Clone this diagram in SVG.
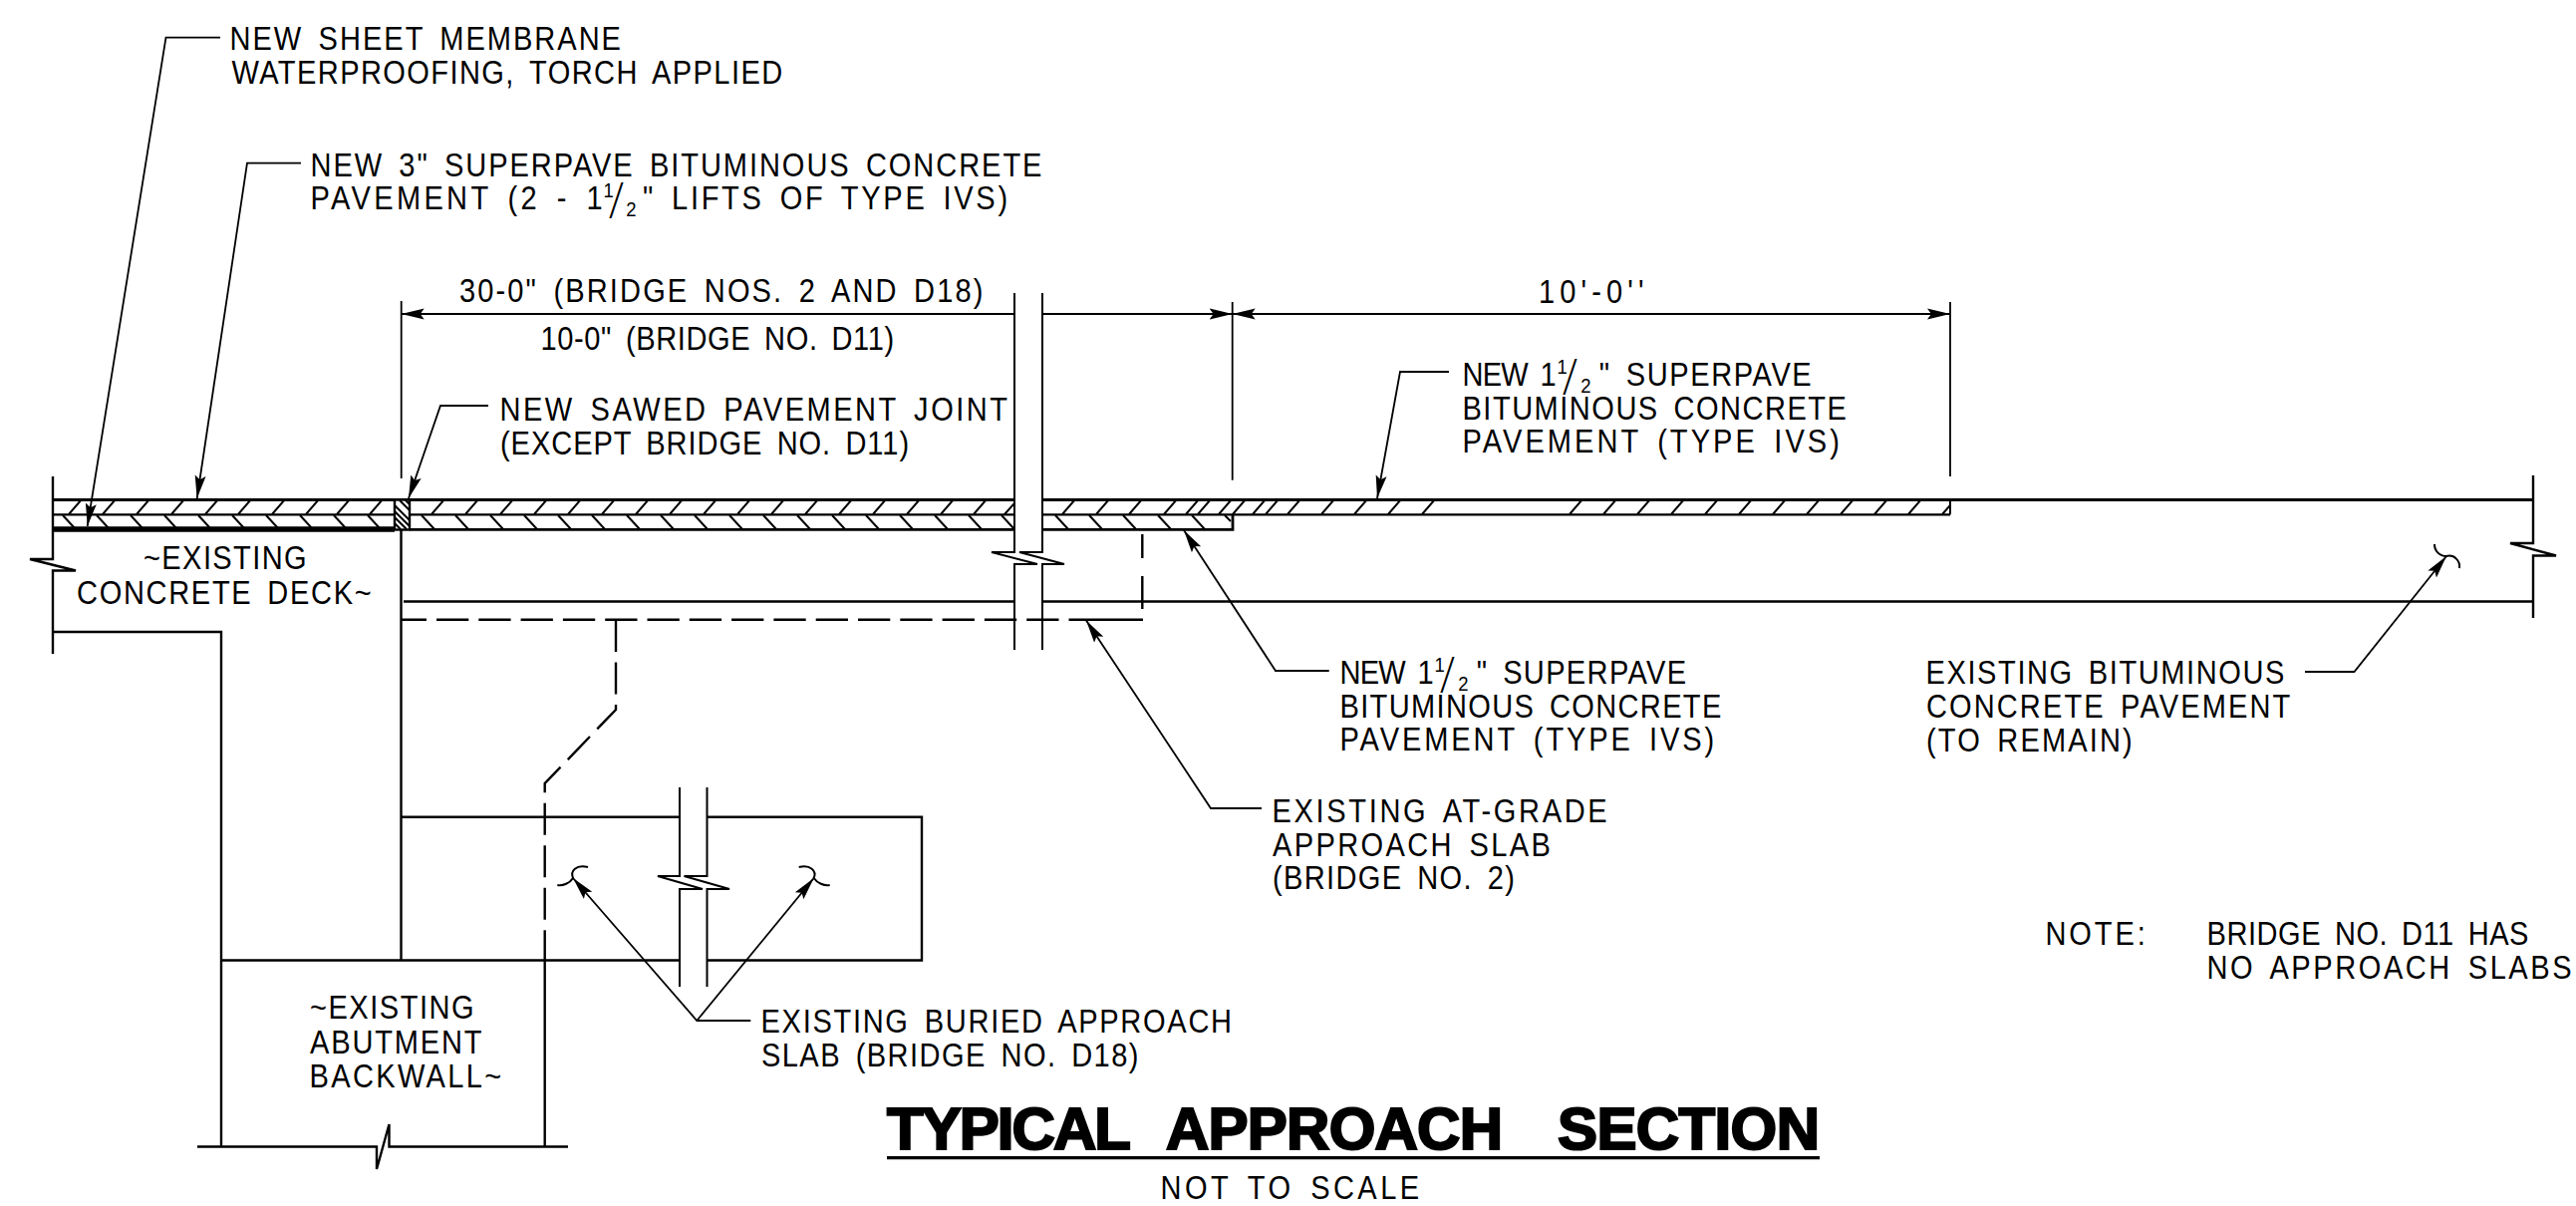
<svg xmlns="http://www.w3.org/2000/svg" width="2585" height="1210" viewBox="0 0 2585 1210">
<style>
.t{font-family:"Liberation Sans",Arial,sans-serif;font-size:33px;fill:#000;word-spacing:6px}
.s{font-size:21px}
.sl{font-family:Roboto,"Liberation Sans",sans-serif;font-weight:300;font-size:46px;word-spacing:0}
.title{font-family:"Liberation Sans",Arial,sans-serif;font-weight:700;font-size:60px;fill:#000;stroke:#000;stroke-width:2.200px}
.l{fill:none;stroke:#000;stroke-width:2.400}
.th{fill:none;stroke:#000;stroke-width:2}
.h{fill:none;stroke:#000;stroke-width:2}
.ld{fill:none;stroke:#000;stroke-width:1.800;marker-end:url(#a)}
.ln{fill:none;stroke:#000;stroke-width:1.800}
</style>
<defs>
<marker id="a" markerUnits="userSpaceOnUse" markerWidth="26" markerHeight="14" refX="23" refY="7" orient="auto"><path d="M23 7L0 1.500L4 7L0 12.500Z" fill="#000"/></marker>
</defs>
<rect width="2585" height="1210" fill="#fff"/>

<g id="pavement">
<path d="M53 501.500H1018M1046 501.500H2542" fill="none" stroke="#000" stroke-width="3.200"/>
<path d="M53 516.300H1018M1046 516.300H1957" fill="none" stroke="#000" stroke-width="2.200"/>
<path d="M411 531.300H1018M1046 531.300H1237V516" fill="none" stroke="#000" stroke-width="2.800"/>
<path d="M1957 501.500V516.300" class="th"/>
<path d="M53 531H396" fill="none" stroke="#000" stroke-width="5.500"/>
<path class="h" d="M69 516l13-15M103 516l13-15M137 516l13-15M172 516l13-15M206 516l13-15M239 516l13-15M273 516l13-15M307 516l13-15M338 516l13-15M371 516l13-15M433 516l13-15M467 516l13-15M502 516l13-15M536 516l13-15M570 516l13-15M604 516l13-15M638 516l13-15M672 516l13-15M706 516l13-15M740 516l13-15M774 516l13-15M808 516l13-15M842 516l13-15M876 516l13-15M910 516l13-15M944 516l13-15M977 516l13-15M1008 516l10-11M1066 516l13-15M1100 516l13-15M1133 516l13-15M1168 516l13-15M1190 516l13-15M1202 516l13-15M1223 516l13-15M1237 516l13-15M1257 516l13-15M1270 516l13-15M1292 516l13-15M1326 516l13-15M1359 516l13-15M1393 516l13-15M1427 516l13-15M1575 516l13-15M1609 516l13-15M1643 516l13-15M1677 516l13-15M1711 516l13-15M1745 516l13-15M1779 516l13-15M1813 516l13-15M1847 516l13-15M1881 516l13-15M1915 516l13-15M1949 516l8-9"/>
<path class="h" d="M63 517l12 13M97 517l12 13M131 517l12 13M165 517l12 13M199 517l12 13M233 517l12 13M267 517l12 13M301 517l12 13M335 517l12 13M369 517l12 13M423 517l13 14M457 517l13 14M492 517l13 14M526 517l13 14M560 517l13 14M594 517l13 14M629 517l13 14M663 517l13 14M697 517l13 14M732 517l13 14M766 517l13 14M800 517l13 14M835 517l13 14M869 517l13 14M903 517l13 14M938 517l13 14M972 517l13 14M1005 517l13 14M1059 517l13 14M1093 517l13 14M1127 517l13 14M1162 517l13 14M1196 517l13 14M1229 517l6 6"/>
<rect x="396" y="501.500" width="15" height="30" fill="#fff" stroke="#000" stroke-width="2.400"/>
<path class="h" d="M396 507l15 15M396 513l15 15M396 519l12 12M396 525l6 6M401 502l10 10M407 502l4 4"/>
</g>

<g id="deck">
<path class="l" d="M53 478V561H30L76 572.500H53V656M53 634H222V1150"/>
<path class="l" d="M402.500 532V964"/>
<path class="l" d="M405 603.500H1018M1046 603.500H2542"/>
<path class="l" d="M2542 477V545H2519L2565 557.500H2542V620"/>
<path class="l" d="M198 1150.500H378V1173L390.500 1128V1150.500H570"/>
<path class="l" d="M546.700 964V1150"/>
</g>

<g id="slab">
<path class="l" d="M402 819.700H682M709.500 819.700H925V963.500H709.500M682 963.500H222"/>
<path class="l" d="M403 621.700H1147" stroke-dasharray="25 10 32.300 10 32.300 10 32.300 10 32.300 10 32.300 10 32.300 10 32.300 10 32.300 10 32.300 10 32.300 10 32.300 10 32.300 10 32.300 10 32.300 10 32.300 10 75 0"/>
<path class="l" d="M1146.300 536V560M1146.300 578V611"/>
<path class="l" d="M618 622V712L546.700 786V964" stroke-dasharray="32 10.500"/>
</g>

<g id="breaks">
<path class="th" d="M1018 294V554H995L1041 566H1018V652M1046 294V554H1023L1068 566H1046V652"/>
<path class="th" d="M682 790V879H660L705 892H682V990M709.500 790V879H686.500L732 892H709.500V990"/>
<path class="th" d="M590 870C578 867 572 874 575 881C572 886 565 889 559.300 888"/>
<path class="th" d="M801.700 870C813 867 820 874 816.700 881C820 886 827 889 832.700 888"/>
<path class="th" d="M2443 546C2443 553 2448 558 2455 558C2463 556 2469 563 2468 570"/>
</g>

<g id="connectors">
<path class="ld" d="M221 37.700H166.500L87.700 528"/>
<path class="ld" d="M302 163.700H248L197.700 500"/>
<path class="ld" d="M490 407H442L410 500"/>
<path class="ld" d="M1454 373H1405L1382 500"/>
<path class="ld" d="M1333.700 673H1280L1188 532"/>
<path class="ld" d="M1266 811H1215L1090 622.500"/>
<path class="ld" d="M2313 674H2362.500L2455 558"/>
<path class="ld" d="M753.300 1024H699.300L575 881"/>
<path class="ld" d="M699.300 1024L816.700 881"/>
<path class="ln" d="M402.700 302V480M1236.700 303V481.700M1957 303V478"/>
<path class="ld" d="M1018 315H402.700"/>
<path class="ld" d="M1046 315H1236.700"/>
<path class="ld" d="M1957 315H1236.700"/>
<path class="ld" d="M1236.700 315H1957"/>
</g>

<g id="label-membrane">
<text class="t" transform="translate(230.500 50) scale(.88 1)" textLength="446">NEW SHEET MEMBRANE</text>
<text class="t" transform="translate(232.500 84) scale(.88 1)" textLength="628">WATERPROOFING, TORCH APPLIED</text>
</g>
<g id="label-superpave-3">
<text class="t" transform="translate(311.500 177) scale(.88 1)" textLength="834">NEW 3" SUPERPAVE BITUMINOUS CONCRETE</text>
<text class="t" transform="translate(311.500 210) scale(.88 1)"><tspan textLength="333">PAVEMENT (2 - 1</tspan><tspan class="s" x="334" y="-12">1</tspan><tspan class="sl" x="340" y="6">/</tspan><tspan class="s" x="360" y="7">2</tspan><tspan x="379" y="0" textLength="416">" LIFTS OF TYPE IVS)</tspan></text>
</g>
<g id="label-dim-left">
<text class="t" transform="translate(461 303) scale(.88 1)" textLength="597">30-0" (BRIDGE NOS. 2 AND D18)</text>
<text class="t" transform="translate(542.500 351) scale(.88 1)" textLength="403">10-0" (BRIDGE NO. D11)</text>
</g>
<g id="label-dim-right"><text class="t" transform="translate(1544 304) scale(.88 1)" textLength="120">10'-0''</text></g>
<g id="label-joint">
<text class="t" transform="translate(501.500 421.700) scale(.88 1)" textLength="579">NEW SAWED PAVEMENT JOINT</text>
<text class="t" transform="translate(502 456) scale(.88 1)" textLength="466">(EXCEPT BRIDGE NO. D11)</text>
</g>
<g id="label-superpave-upper">
<text class="t" transform="translate(1467.500 387) scale(.88 1)"><tspan textLength="107">NEW 1</tspan><tspan class="s" x="108" y="-12">1</tspan><tspan class="sl" x="114" y="6">/</tspan><tspan class="s" x="135" y="7">2</tspan><tspan x="156" y="0" textLength="242">" SUPERPAVE</tspan></text>
<text class="t" transform="translate(1467.500 421) scale(.88 1)" textLength="438">BITUMINOUS CONCRETE</text>
<text class="t" transform="translate(1467.500 454) scale(.88 1)" textLength="430">PAVEMENT (TYPE IVS)</text>
</g>
<g id="label-superpave-lower">
<text class="t" transform="translate(1344.500 686) scale(.88 1)"><tspan textLength="107">NEW 1</tspan><tspan class="s" x="108" y="-12">1</tspan><tspan class="sl" x="114" y="6">/</tspan><tspan class="s" x="135" y="7">2</tspan><tspan x="156" y="0" textLength="239">" SUPERPAVE</tspan></text>
<text class="t" transform="translate(1344.500 720) scale(.88 1)" textLength="435">BITUMINOUS CONCRETE</text>
<text class="t" transform="translate(1344.500 753) scale(.88 1)" textLength="427">PAVEMENT (TYPE IVS)</text>
</g>
<g id="label-existing-pavement">
<text class="t" transform="translate(1932.500 686) scale(.88 1)" textLength="409">EXISTING BITUMINOUS</text>
<text class="t" transform="translate(1933 720) scale(.88 1)" textLength="415">CONCRETE PAVEMENT</text>
<text class="t" transform="translate(1933 754) scale(.88 1)" textLength="235">(TO REMAIN)</text>
</g>
<g id="label-at-grade">
<text class="t" transform="translate(1276.500 825) scale(.88 1)" textLength="382">EXISTING AT-GRADE</text>
<text class="t" transform="translate(1277 859) scale(.88 1)" textLength="317">APPROACH SLAB</text>
<text class="t" transform="translate(1277 892) scale(.88 1)" textLength="276">(BRIDGE NO. 2)</text>
</g>
<g id="label-note">
<text class="t" transform="translate(2052.500 948) scale(.88 1)" textLength="114">NOTE:</text>
<text class="t" transform="translate(2214.500 948) scale(.88 1)" textLength="367">BRIDGE NO. D11 HAS</text>
<text class="t" transform="translate(2214.500 982) scale(.88 1)" textLength="416">NO APPROACH SLABS</text>
</g>
<g id="label-buried">
<text class="t" transform="translate(763.500 1036) scale(.88 1)" textLength="537">EXISTING BURIED APPROACH</text>
<text class="t" transform="translate(764 1070) scale(.88 1)" textLength="430">SLAB (BRIDGE NO. D18)</text>
</g>
<g id="label-deck">
<text class="t" transform="translate(144 571) scale(.88 1)" textLength="186">~EXISTING</text>
<text class="t" transform="translate(77 605.700) scale(.88 1)" textLength="336">CONCRETE DECK~</text>
</g>
<g id="label-abutment">
<text class="t" transform="translate(311 1022) scale(.88 1)" textLength="187">~EXISTING</text>
<text class="t" transform="translate(311 1057) scale(.88 1)" textLength="196">ABUTMENT</text>
<text class="t" transform="translate(310.500 1090.700) scale(.88 1)" textLength="219">BACKWALL~</text>
</g>
<g id="title">
<text class="title" x="890" y="1152.500"><tspan textLength="245">TYPICAL</tspan><tspan x="1170" textLength="338">APPROACH</tspan><tspan x="1563" textLength="263">SECTION</tspan></text>
<path d="M890 1161.700H1826" stroke="#000" stroke-width="3.200"/>
<text class="t" transform="translate(1164.500 1203) scale(.88 1)" textLength="295">NOT TO SCALE</text>
</g>
</svg>
